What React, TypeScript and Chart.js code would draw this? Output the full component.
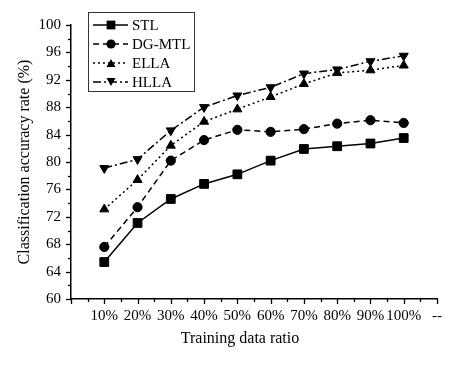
import React, { useEffect, useRef } from "react";
import { Chart, registerables } from "chart.js";

Chart.register(...registerables);

const categories = ["", "10%", "20%", "30%", "40%", "50%", "60%", "70%", "80%", "90%", "100%", "--"];
const stl = [null, 65.4, 71.1, 74.6, 76.8, 78.2, 80.2, 81.9, 82.3, 82.7, 83.5, null];
const dgmtl = [null, 67.6, 73.4, 80.2, 83.2, 84.7, 84.4, 84.8, 85.6, 86.1, 85.7, null];
const ella = [null, 73.1, 77.4, 82.4, 85.9, 87.7, 89.5, 91.4, 93.0, 93.4, 94.1, null];
const hlla = [null, 79.1, 80.4, 84.6, 88.0, 89.7, 90.9, 92.9, 93.5, 94.7, 95.5, null];
const yTicksMajor = [60, 64, 68, 72, 76, 80, 84, 88, 92, 96, 100];

const FONT = "'Liberation Serif', 'Times New Roman', serif";

const seriesStyles = [
  { label: "STL", data: stl, dash: [] as number[], point: "rect", radius: 6.2, rotation: 0 },
  { label: "DG-MTL", data: dgmtl, dash: [6, 4], point: "circle", radius: 4.6, rotation: 0 },
  { label: "ELLA", data: ella, dash: [2, 3], point: "triangle", radius: 5.2, rotation: 0 },
  { label: "HLLA", data: hlla, dash: [8, 3, 2, 3], point: "triangle", radius: 5.2, rotation: 180 },
];

function drawMarker(ctx: CanvasRenderingContext2D, style: string, r: number, rot: number, x: number, y: number) {
  ctx.save();
  ctx.translate(x, y);
  ctx.rotate((rot * Math.PI) / 180);
  ctx.beginPath();
  if (style === "rect") {
    const s = r * Math.SQRT1_2;
    ctx.rect(-s, -s, 2 * s, 2 * s);
  } else if (style === "circle") {
    ctx.arc(0, 0, r, 0, Math.PI * 2);
  } else {
    const a = (Math.PI * 2) / 3;
    for (let k = 0; k < 3; k++) {
      const ang = -Math.PI / 2 + k * a;
      const px = Math.cos(ang) * r;
      const py = Math.sin(ang) * r + r * 0.25;
      if (k === 0) ctx.moveTo(px, py);
      else ctx.lineTo(px, py);
    }
    ctx.closePath();
  }
  ctx.fill();
  ctx.restore();
}

const ticksPlugin = {
  id: "customTicks",
  afterDraw(chart: any) {
    const ctx = chart.ctx;
    const x = chart.scales.x;
    const y = chart.scales.y;
    ctx.save();
    ctx.strokeStyle = "#000";
    ctx.lineWidth = 1.3;
    ctx.setLineDash([]);
    for (let v = 60; v <= 100; v += 2) {
      const py = Math.round(y.getPixelForValue(v)) + 0.5;
      const len = v % 4 === 0 ? 5 : 3;
      ctx.beginPath();
      ctx.moveTo(x.left, py);
      ctx.lineTo(x.left - len, py);
      ctx.stroke();
    }
    const n = categories.length;
    for (let i = 0; i < n; i++) {
      const px = Math.round(x.getPixelForValue(i)) + 0.5;
      ctx.beginPath();
      ctx.moveTo(px, y.bottom);
      ctx.lineTo(px, y.bottom + 5);
      ctx.stroke();
      if (i < n - 1) {
        const mx = Math.round((x.getPixelForValue(i) + x.getPixelForValue(i + 1)) / 2) + 0.5;
        ctx.beginPath();
        ctx.moveTo(mx, y.bottom);
        ctx.lineTo(mx, y.bottom + 3);
        ctx.stroke();
      }
    }
    ctx.fillStyle = "#000";
    ctx.font = `16px ${FONT}`;
    ctx.textAlign = "center";
    ctx.textBaseline = "middle";
    ctx.fillText("Training data ratio", 240, 339);

    const bx = 88.5, by = 12.5, bw = 106, bh = 79;
    ctx.lineWidth = 1;
    ctx.strokeStyle = "#333";
    ctx.strokeRect(bx, by, bw, bh);
    ctx.font = `15px ${FONT}`;
    ctx.textAlign = "left";
    const rows = [25, 44, 63, 82];
    seriesStyles.forEach((s, i) => {
      const ry = rows[i];
      ctx.strokeStyle = "#000";
      ctx.lineWidth = 1.5;
      ctx.setLineDash(s.dash);
      ctx.beginPath();
      ctx.moveTo(93, ry);
      ctx.lineTo(128, ry);
      ctx.stroke();
      ctx.setLineDash([]);
      ctx.fillStyle = "#000";
      drawMarker(ctx, s.point, s.radius, s.rotation, 111, ry);
      ctx.fillStyle = "#000";
      ctx.fillText(s.label, 132, ry + 1);
    });
    ctx.restore();
  },
};

export default function App() {
  const ref = useRef<HTMLCanvasElement | null>(null);
  useEffect(() => {
    if (!ref.current) return;
    const chart = new Chart(ref.current, {
      type: "line",
      data: {
        labels: categories,
        datasets: seriesStyles.map((s) => ({
          label: s.label,
          data: s.data,
          borderColor: "#000",
          backgroundColor: "#000",
          borderWidth: 1.5,
          borderDash: s.dash,
          pointStyle: s.point as any,
          pointRadius: s.radius,
          pointRotation: s.rotation,
          pointBorderWidth: 1,
          pointBackgroundColor: "#000",
          pointBorderColor: "#000",
          fill: false,
          tension: 0,
        })),
      },
      options: {
        animation: false,
        responsive: true,
        maintainAspectRatio: false,
        layout: { padding: { left: 0, top: 25, right: 38, bottom: 0 } },
        plugins: { legend: { display: false }, tooltip: { enabled: false } },
        scales: {
          x: {
            type: "category",
            offset: false,
            afterFit: (s: any) => { s.height = 78; },
            grid: { drawOnChartArea: false, drawTicks: false },
            border: { display: true, color: "#000", width: 1.5 },
            ticks: {
              color: "#000",
              font: { family: FONT, size: 15 },
              padding: 8,
              maxRotation: 0,
              autoSkip: false,
            },
          },
          y: {
            min: 60,
            max: 100,
            afterFit: (s: any) => { s.width = 71; },
            grid: { drawOnChartArea: false, drawTicks: false },
            border: { display: true, color: "#000", width: 1.5 },
            ticks: {
              stepSize: 2,
              color: "#000",
              font: { family: FONT, size: 15 },
              padding: 10,
              callback: (v: any) => (yTicksMajor.includes(Number(v)) ? String(v) : ""),
            },
            title: {
              display: true,
              text: "Classification accuracy rate (%)",
              color: "#000",
              font: { family: FONT, size: 16 },
              padding: { top: 15 },
            },
          },
        },
      },
      plugins: [ticksPlugin],
    });
    return () => chart.destroy();
  }, []);
  return (
    <div style={{ position: "absolute", left: 0, top: 0, width: 475, height: 377, background: "#fff" }}>
      <canvas ref={ref} />
    </div>
  );
}
